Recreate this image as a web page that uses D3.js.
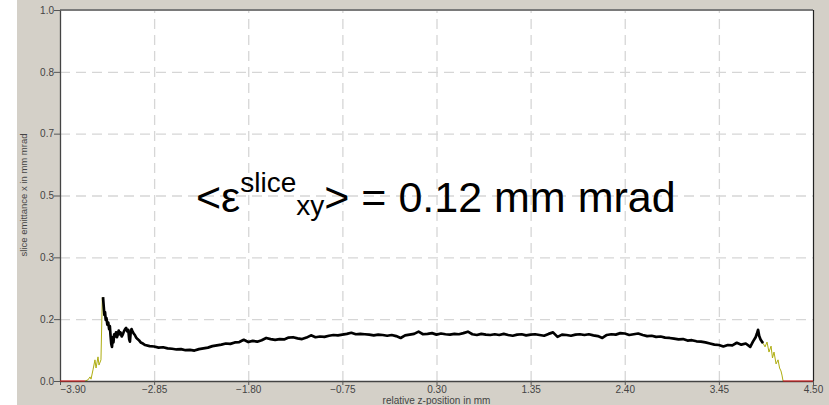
<!DOCTYPE html>
<html>
<head>
<meta charset="utf-8">
<script src="https://cdn.jsdelivr.net/npm/d3@7"></script>
<style>
  body { margin: 0; background: #fff; }
  svg { display: block; font-family: Arial, "Liberation Sans", sans-serif; }
  .tick text { fill: #444; font-size: 10px; }
  .grid line { stroke: #d6d6d6; stroke-width: 1.3; stroke-dasharray: 10,6; }
  .grid .domain { display: none; }
</style>
</head>
<body>
<div id="chart"></div>
<script>
var width = 829, height = 405;
var plot = { left: 60, right: 813, top: 10, bottom: 381 };

// tick positions and their printed labels
const xTicks = [-3.90, -2.85, -1.80, -0.75, 0.30, 1.35, 2.40, 3.45, 4.50];
const yTicks = [0, 0.1667, 0.3333, 0.5, 0.6667, 0.8333, 1.0];
const yTickLabels = ["0.0", "0.2", "0.3", "0.5", "0.7", "0.8", "1.0"];

// slice emittance (mm mrad) vs relative z-position (mm), black core part
const sliceCore = [
  [-3.420,0.226],[-3.412,0.200],[-3.405,0.178],[-3.398,0.186],[-3.390,0.165],[-3.382,0.170],
  [-3.372,0.152],[-3.362,0.158],[-3.352,0.140],[-3.344,0.148],[-3.336,0.122],[-3.328,0.100],
  [-3.320,0.092],[-3.312,0.118],[-3.304,0.104],[-3.295,0.126],[-3.285,0.120],[-3.275,0.131],
  [-3.265,0.118],[-3.255,0.125],[-3.245,0.136],[-3.235,0.126],[-3.225,0.131],[-3.212,0.120],
  [-3.200,0.125],[-3.188,0.133],[-3.175,0.139],[-3.162,0.143],[-3.150,0.134],[-3.138,0.138],
  [-3.128,0.112],[-3.120,0.106],[-3.112,0.130],[-3.102,0.140],[-3.090,0.133],[-3.078,0.128],
  [-3.065,0.124],[-3.050,0.117],[-3.035,0.113],[-3.020,0.110],[-3.000,0.104],[-2.975,0.101],
  [-2.95,0.097],[-2.90,0.094],[-2.85,0.093],[-2.80,0.090],[-2.75,0.091],[-2.70,0.088],
  [-2.65,0.087],[-2.60,0.085],[-2.55,0.086],[-2.50,0.083],[-2.45,0.084],[-2.40,0.082],
  [-2.35,0.086],[-2.30,0.088],[-2.25,0.090],[-2.20,0.094],[-2.15,0.096],[-2.10,0.098],
  [-2.05,0.101],[-2.00,0.100],[-1.95,0.104],[-1.90,0.105],[-1.85,0.111],[-1.80,0.105],
  [-1.75,0.108],[-1.70,0.106],[-1.65,0.110],[-1.60,0.116],[-1.55,0.113],[-1.50,0.111],
  [-1.45,0.113],[-1.40,0.112],[-1.35,0.117],[-1.30,0.118],[-1.25,0.115],[-1.20,0.113],
  [-1.15,0.117],[-1.10,0.123],[-1.05,0.118],[-1.00,0.120],[-0.95,0.119],[-0.90,0.122],
  [-0.85,0.124],[-0.80,0.123],[-0.75,0.125],[-0.70,0.127],[-0.65,0.130],[-0.60,0.126],
  [-0.55,0.127],[-0.50,0.126],[-0.45,0.125],[-0.40,0.123],[-0.35,0.125],[-0.30,0.124],
  [-0.25,0.122],[-0.20,0.124],[-0.15,0.121],[-0.10,0.116],[-0.05,0.123],[0.00,0.125],
  [0.05,0.127],[0.10,0.133],[0.15,0.126],[0.20,0.127],[0.25,0.129],[0.30,0.125],
  [0.35,0.128],[0.40,0.126],[0.45,0.125],[0.50,0.127],[0.55,0.126],[0.60,0.129],
  [0.65,0.133],[0.70,0.126],[0.75,0.124],[0.80,0.127],[0.85,0.125],[0.90,0.124],
  [0.95,0.126],[1.00,0.124],[1.05,0.127],[1.10,0.124],[1.15,0.122],[1.20,0.125],
  [1.25,0.126],[1.30,0.123],[1.35,0.125],[1.40,0.126],[1.45,0.124],[1.50,0.122],
  [1.55,0.127],[1.60,0.131],[1.65,0.119],[1.70,0.125],[1.75,0.124],[1.80,0.122],
  [1.85,0.125],[1.90,0.126],[1.95,0.124],[2.00,0.126],[2.05,0.123],[2.10,0.121],
  [2.15,0.116],[2.20,0.124],[2.25,0.126],[2.30,0.125],[2.35,0.129],[2.40,0.128],
  [2.45,0.124],[2.50,0.126],[2.55,0.128],[2.60,0.124],[2.65,0.121],[2.70,0.122],
  [2.75,0.119],[2.80,0.120],[2.85,0.117],[2.90,0.116],[2.95,0.114],[3.00,0.112],
  [3.05,0.113],[3.10,0.109],[3.15,0.110],[3.20,0.107],[3.25,0.106],[3.30,0.104],
  [3.35,0.101],[3.40,0.098],[3.45,0.097],[3.50,0.093],[3.55,0.097],[3.60,0.096],
  [3.65,0.103],[3.70,0.098],[3.75,0.101],[3.80,0.092],[3.83,0.106],[3.86,0.118],
  [3.875,0.128],[3.887,0.138],[3.90,0.121],[3.915,0.112],[3.93,0.106],[3.943,0.102]
];

// low-charge head and tail (yellow)
const sliceHead = [
  [-3.621,0.000],[-3.588,0.003],[-3.565,0.011],[-3.554,0.005],[-3.532,0.030],[-3.510,0.057],
  [-3.498,0.035],[-3.476,0.065],[-3.465,0.043],[-3.443,0.057],[-3.428,0.224],[-3.420,0.226]
];
const sliceTail = [
  [3.943,0.102],[3.965,0.092],[3.987,0.105],[4.009,0.078],[4.032,0.094],[4.048,0.062],
  [4.065,0.078],[4.088,0.046],[4.110,0.057],[4.127,0.035],[4.143,0.027],[4.154,0.016],
  [4.166,0.000]
];

// empty slices (red, on zero)
const emptyLeft = [[-3.90,0],[-3.621,0]];
const emptyRight = [[4.166,0],[4.50,0]];

var svg = d3.select('#chart').append('svg')
  .attr('width', width).attr('height', height);

svg.append('rect').attr('x', 17).attr('y', 0)
  .attr('width', width - 17).attr('height', height).attr('fill', '#d4d0c8');

var x = d3.scaleLinear().domain([-3.90, 4.50]).range([plot.left, plot.right]);
var y = d3.scaleLinear().domain([0, 1]).range([plot.bottom, plot.top]);

svg.append('rect')
  .attr('x', plot.left).attr('y', plot.top)
  .attr('width', plot.right - plot.left).attr('height', plot.bottom - plot.top)
  .attr('fill', '#fff');

// dashed grid
svg.append('g').attr('class', 'grid')
  .attr('transform', 'translate(0,' + plot.bottom + ')')
  .call(d3.axisBottom(x).tickValues(xTicks.slice(1, -1)).tickSize(-(plot.bottom - plot.top)).tickFormat(''));
svg.append('g').attr('class', 'grid')
  .attr('transform', 'translate(' + plot.left + ',0)')
  .call(d3.axisLeft(y).tickValues(yTicks.slice(1, -1)).tickSize(-(plot.right - plot.left)).tickFormat(''));

// frame: top grey, right dark
svg.append('line').attr('x1', plot.left).attr('x2', plot.right)
  .attr('y1', plot.top).attr('y2', plot.top)
  .attr('stroke', '#7a7a7a').attr('stroke-width', 2);
svg.append('line').attr('x1', plot.right + 0.5).attr('x2', plot.right + 0.5)
  .attr('y1', plot.top).attr('y2', plot.bottom)
  .attr('stroke', '#222').attr('stroke-width', 1.2);

var line = d3.line().x(d => x(d[0])).y(d => y(d[1]));

svg.append('path').datum(sliceHead).attr('d', line)
  .attr('fill', 'none').attr('stroke', '#aead10').attr('stroke-width', 1);
svg.append('path').datum(sliceTail).attr('d', line)
  .attr('fill', 'none').attr('stroke', '#aead10').attr('stroke-width', 1);
svg.append('path').datum(sliceCore).attr('d', line)
  .attr('fill', 'none').attr('stroke', '#000').attr('stroke-width', 2.7)
  .attr('stroke-linejoin', 'round');

// axes
var xAxis = svg.append('g')
  .attr('transform', 'translate(0,' + plot.bottom + ')')
  .call(d3.axisBottom(x).tickValues(xTicks).tickSize(4).tickSizeOuter(0).tickFormat(d3.format('.2f')));
var yAxis = svg.append('g')
  .attr('transform', 'translate(' + plot.left + ',0)')
  .call(d3.axisLeft(y).tickValues(yTicks).tickSize(6).tickSizeOuter(0)
    .tickFormat((d, i) => yTickLabels[i]));

[xAxis, yAxis].forEach(function(a) {
  a.select('.domain').attr('stroke', '#444').attr('stroke-width', 1.3);
  a.selectAll('.tick line').attr('stroke', '#555');
});
xAxis.selectAll('.tick text').attr('y', 4.5).attr('dy', '0.71em');
xAxis.selectAll('.tick text').filter((d, i) => i === 0).attr('text-anchor', 'start');
yAxis.selectAll('.tick text').attr('x', -6);

svg.append('path').datum(emptyLeft).attr('d', line)
  .attr('fill', 'none').attr('stroke', '#e01010').attr('stroke-width', 1);
svg.append('path').datum(emptyRight).attr('d', line)
  .attr('fill', 'none').attr('stroke', '#e01010').attr('stroke-width', 1);

// axis titles
svg.append('text').attr('x', (plot.left + plot.right) / 2).attr('y', 404)
  .attr('text-anchor', 'middle').attr('font-size', 10).attr('fill', '#444')
  .text('relative z-position in mm');
svg.append('text')
  .attr('transform', 'translate(27,195) rotate(-90)')
  .attr('text-anchor', 'middle').attr('font-size', 9.5).attr('fill', '#444')
  .text('slice emittance x in mm mrad');

// annotation
var note = svg.append('text').attr('x', 196).attr('y', 212)
  .attr('font-size', 43).attr('fill', '#000');
note.append('tspan').text('<ε');
note.append('tspan').attr('font-size', 28).attr('dy', -20).text('slice');
note.append('tspan').attr('font-size', 28).attr('dy', 23).text('xy');
note.append('tspan').attr('dy', -3).text('> = 0.12 mm mrad');
</script>
</body>
</html>
